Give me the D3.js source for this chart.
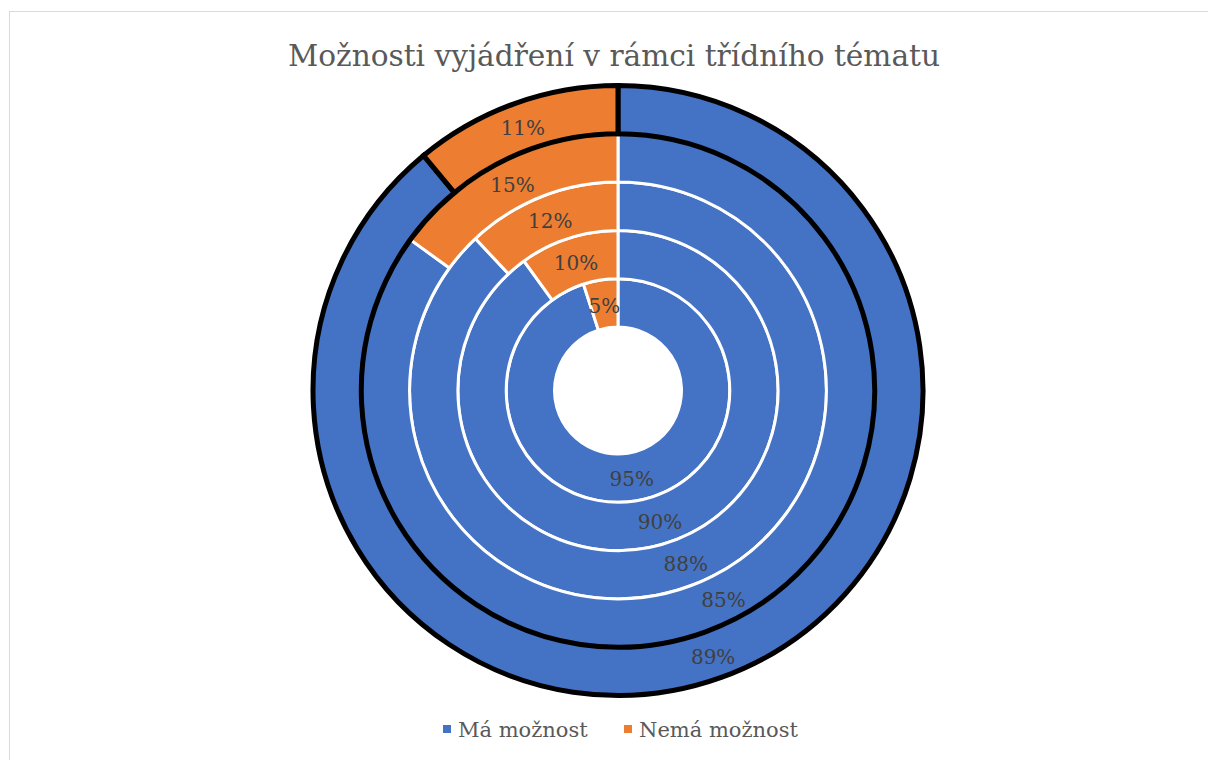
<!DOCTYPE html>
<html><head><meta charset="utf-8">
<script src="https://cdn.jsdelivr.net/npm/d3@7"></script>
<style>body{margin:0;background:#fff;}svg{display:block;}
text{font-family:"DejaVu Serif","Liberation Serif",serif;}</style>
</head><body>
<svg id="c" width="1208" height="760"></svg>
<script>
const title = "Možnosti vyjádření v rámci třídního tématu";
const seriesNames = ["Má možnost", "Nemá možnost"];
// rings from inner to outer
const maValues = [95, 90, 88, 85, 89];
const nemaValues = [5, 10, 12, 15, 11];
const colors = ["#4472C4", "#ED7D31"];

const svg = d3.select("#c");
svg.append("rect").attr("x", 9.5).attr("y", 11.5).attr("width", 1400).attr("height", 1000)
  .attr("fill", "#fff").attr("stroke", "#d9d9d9").attr("stroke-width", 1);

svg.append("text").attr("x", 614).attr("y", 66).attr("text-anchor", "middle")
  .attr("font-size", 29.6)
  .attr("fill", "#595959").text(title);

const cx = 618, cy = 390.5;
const hole = 63.5, outerR = 305;
const nRings = maValues.length;
const ringScale = d3.scaleLinear().domain([0, nRings]).range([hole, outerR]);
const g = svg.append("g").attr("transform", `translate(${cx},${cy})`);
const pie = d3.pie().sort(null).value(d => d.v);

const ringsData = maValues.map((m, i) => [{k: 0, v: m}, {k: 1, v: nemaValues[i]}]);

ringsData.forEach((rd, i) => {
  const r0 = ringScale(i), r1 = ringScale(i + 1);
  const arc = d3.arc().innerRadius(r0).outerRadius(r1);
  const isOuter = i === nRings - 1;
  g.append("g").selectAll("path").data(pie(rd)).join("path")
    .attr("d", arc)
    .attr("fill", d => colors[d.data.k])
    .attr("stroke", isOuter ? "#000" : "#fff")
    .attr("stroke-width", isOuter ? 5 : 3)
    .attr("stroke-linejoin", "miter");
});
ringsData.forEach((rd, i) => {
  const r0 = ringScale(i), r1 = ringScale(i + 1);
  const arc = d3.arc().innerRadius(r0).outerRadius(r1);
  g.append("g").selectAll("text").data(pie(rd)).join("text")
    .attr("transform", d => `translate(${arc.centroid(d)})`)
    .attr("text-anchor", "middle").attr("dy", "0.45em")
    .attr("font-size", 20)
    .attr("fill", "#404040").text(d => d.data.v + "%");
});

const legend = svg.append("g");
const legX = [443, 624];
seriesNames.forEach((n, i) => {
  legend.append("rect").attr("x", legX[i]).attr("y", 725).attr("width", 8).attr("height", 8).attr("fill", colors[i]);
  legend.append("text").attr("x", legX[i] + 15).attr("y", 737)
    .attr("font-size", 21)
    .attr("fill", "#595959").text(n);
});
</script>
</body></html>
